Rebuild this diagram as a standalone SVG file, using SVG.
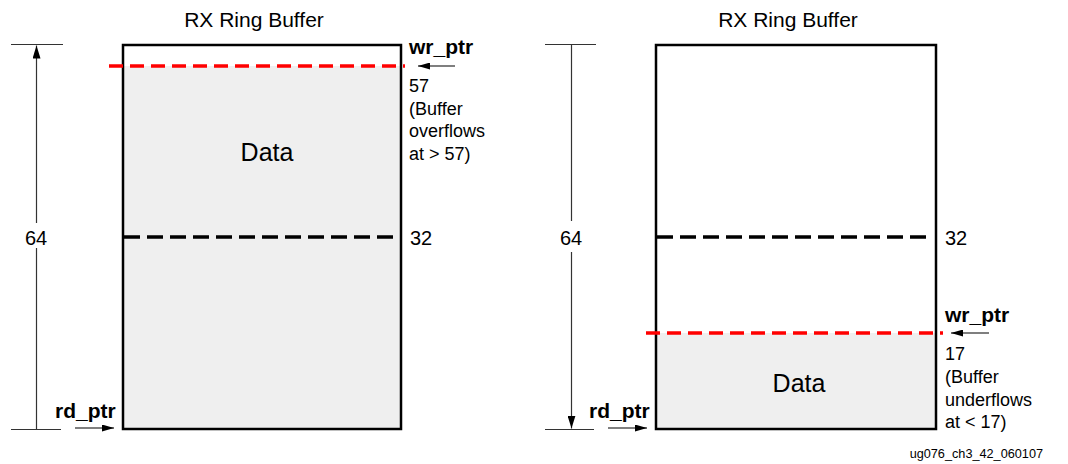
<svg xmlns="http://www.w3.org/2000/svg" width="1068" height="464" viewBox="0 0 1068 464">
  <defs>
    <marker id="ah" viewBox="0 0 12 7" refX="12" refY="3.5" markerWidth="12" markerHeight="7" markerUnits="userSpaceOnUse" orient="auto">
      <path d="M0,0 L12,3.5 L0,7 Z" fill="#000"/>
    </marker>
    <marker id="ahDim" viewBox="0 0 13 8" refX="13" refY="4" markerWidth="13" markerHeight="8" markerUnits="userSpaceOnUse" orient="auto">
      <path d="M0,0 L13,4 L0,8 Z" fill="#000"/>
    </marker>
    <style>
      text { font-family: "Liberation Sans", Arial, Helvetica, sans-serif; fill: #000; }
      .title { font-size: 21px; text-anchor: middle; }
      .lbl { font-size: 18px; }
      .num { font-size: 20px; }
      .ptr { font-size: 21px; font-weight: bold; }
      .data { font-size: 25px; text-anchor: middle; }
      .dimtxt { font-size: 20px; text-anchor: middle; }
      .foot { font-size: 12.7px; text-anchor: end; }
      .box { fill: none; stroke: #000; stroke-width: 2.5; }
      .fill { fill: #efefef; stroke: none; }
      .mid { stroke: #000; stroke-width: 3.5; stroke-dasharray: 16 7; fill: none; }
      .wr { stroke: #ff0000; stroke-width: 3.5; stroke-dasharray: 14 7; fill: none; }
      .dim { stroke: #333; stroke-width: 1.2; fill: none; }
      .ptrarrow { stroke: #000; stroke-width: 1.2; fill: none; marker-end: url(#ah); }
    </style>
  </defs>

  <!-- Left buffer: nearly full -->
  <g id="buffer-full">
    <text class="title" x="254" y="27">RX Ring Buffer</text>
    <rect class="fill" x="123" y="66" width="278" height="363"/>
    <rect class="box" x="123" y="45" width="278" height="384"/>
    <line class="mid" x1="124" y1="237" x2="397" y2="237"/>
    <line class="wr" x1="109" y1="66" x2="405" y2="66"/>
    <text class="data" x="267" y="161">Data</text>
    <text class="num" x="410" y="245">32</text>
    <text class="ptr" x="409" y="54">wr_ptr</text>
    <text class="lbl" x="409" y="92">57</text>
    <text class="lbl" x="409" y="115">(Buffer</text>
    <text class="lbl" x="409" y="137">overflows</text>
    <text class="lbl" x="409" y="160">at &gt; 57)</text>
    <text class="ptr" x="55" y="418">rd_ptr</text>
  </g>

  <!-- Right buffer: nearly empty -->
  <g id="buffer-empty">
    <text class="title" x="788" y="27">RX Ring Buffer</text>
    <rect class="fill" x="656" y="333" width="280" height="96"/>
    <rect class="box" x="656" y="45" width="280" height="384"/>
    <line class="mid" x1="657" y1="237" x2="932" y2="237"/>
    <line class="wr" x1="646" y1="333" x2="943" y2="333"/>
    <text class="data" x="799" y="392">Data</text>
    <text class="num" x="945" y="245">32</text>
    <text class="ptr" x="945" y="322">wr_ptr</text>
    <text class="lbl" x="945" y="360">17</text>
    <text class="lbl" x="945" y="383">(Buffer</text>
    <text class="lbl" x="945" y="406">underflows</text>
    <text class="lbl" x="945" y="428">at &lt; 17)</text>
    <text class="ptr" x="589" y="418">rd_ptr</text>
  </g>

  <!-- Depth dimensions -->
  <g id="dim-left">
    <line class="dim" x1="11" y1="44.5" x2="63" y2="44.5"/>
    <line class="dim" x1="11" y1="429.5" x2="61" y2="429.5"/>
    <line class="dim" x1="36.5" y1="223" x2="36.5" y2="45.5" marker-end="url(#ahDim)"/>
    <line class="dim" x1="36.5" y1="248" x2="36.5" y2="429"/>
    <text class="dimtxt" x="36" y="245">64</text>
  </g>
  <g id="dim-right">
    <line class="dim" x1="545" y1="44.5" x2="596" y2="44.5"/>
    <line class="dim" x1="545" y1="429.5" x2="594" y2="429.5"/>
    <line class="dim" x1="571.5" y1="45" x2="571.5" y2="221"/>
    <line class="dim" x1="571.5" y1="252" x2="571.5" y2="428.5" marker-end="url(#ahDim)"/>
    <text class="dimtxt" x="571" y="245">64</text>
  </g>

  <!-- Pointer arrows -->
  <g id="connectors">
    <line class="ptrarrow" x1="455" y1="66" x2="418" y2="66"/>
    <line class="ptrarrow" x1="75" y1="428" x2="114" y2="428"/>
    <line class="ptrarrow" x1="989" y1="333" x2="951" y2="333"/>
    <line class="ptrarrow" x1="608" y1="428" x2="647" y2="428"/>
  </g>

  <text class="foot" x="1043" y="458">ug076_ch3_42_060107</text>
</svg>
